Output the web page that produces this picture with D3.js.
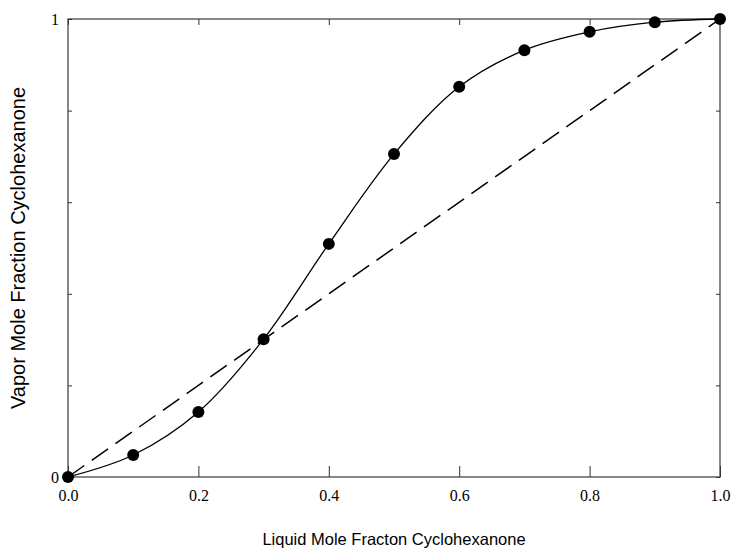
<!DOCTYPE html>
<html>
<head>
<meta charset="utf-8">
<script src="https://cdn.jsdelivr.net/npm/d3@7"></script>
<style>
  body { margin: 0; background: #fff; }
  .tick-label { font-family: "Liberation Serif", "Times New Roman", serif; font-size: 16px; fill: #000; }
  .axis-title { font-family: "Liberation Sans", Arial, sans-serif; font-size: 16.5px; fill: #000; }
</style>
</head>
<body>
<svg id="chart"></svg>
<script>
// liquid vs vapour mole fraction
const liquidX = [0.0, 0.1, 0.2, 0.3, 0.4, 0.5, 0.6, 0.7, 0.8, 0.9, 1.0];
const vaporY  = [0.0, 0.048, 0.142, 0.301, 0.509, 0.705, 0.852, 0.932, 0.972, 0.993, 1.0];
const diagonal = [0, 1];
const xTicks = [0, 0.2, 0.4, 0.6, 0.8, 1.0];
const yTicks = [0, 0.2, 0.4, 0.6, 0.8, 1.0];
const yTickLabels = ['0', '', '', '', '', '1'];

const width = 736, height = 550;
const margin = {top: 19, left: 68, right: 16, bottom: 73};
const w = width - margin.left - margin.right;
const h = height - margin.top - margin.bottom;

const svg = d3.select('#chart')
    .attr('width', width)
    .attr('height', height);

const g = svg.append('g')
    .attr('transform', 'translate(' + margin.left + ',' + margin.top + ')');

const x = d3.scaleLinear().domain([0, 1]).range([0, w]);
const y = d3.scaleLinear().domain([0, 1]).range([h, 0]);

// frame
g.append('rect')
    .attr('x', 0).attr('y', 0)
    .attr('width', w).attr('height', h)
    .attr('fill', 'none')
    .attr('stroke', '#555')
    .attr('stroke-width', 1.4);

// x axis bottom (ticks inward)
const xAxis = g.append('g')
    .attr('transform', 'translate(0,' + h + ')')
    .call(d3.axisBottom(x).tickValues(xTicks).tickSizeInner(-11).tickSizeOuter(0)
        .tickFormat(d3.format('.1f')).tickPadding(13));
xAxis.select('.domain').remove();
xAxis.selectAll('.tick line').attr('stroke', '#333');
xAxis.selectAll('text').attr('class', 'tick-label').attr('font-family', null).attr('font-size', null);

const xTop = g.append('g')
    .call(d3.axisTop(x).tickValues(xTicks).tickSizeInner(-6).tickSizeOuter(0).tickFormat(''));
xTop.select('.domain').remove();
xTop.selectAll('.tick line').attr('stroke', '#333');

// y axis left
const yAxis = g.append('g')
    .call(d3.axisLeft(y).tickValues(yTicks).tickSizeInner(-4).tickSizeOuter(0)
        .tickFormat((d, i) => yTickLabels[i]).tickPadding(9));
yAxis.select('.domain').remove();
yAxis.selectAll('.tick line').attr('stroke', '#333');
yAxis.selectAll('text').attr('class', 'tick-label').attr('font-family', null).attr('font-size', null);

const yRight = g.append('g')
    .attr('transform', 'translate(' + w + ',0)')
    .call(d3.axisRight(y).tickValues(yTicks).tickSizeInner(-4).tickSizeOuter(0).tickFormat(''));
yRight.select('.domain').remove();
yRight.selectAll('.tick line').attr('stroke', '#333');

// diagonal reference line
g.append('line')
    .attr('x1', x(diagonal[0])).attr('y1', y(diagonal[0]))
    .attr('x2', x(diagonal[1])).attr('y2', y(diagonal[1]))
    .attr('stroke', '#000')
    .attr('stroke-width', 1.5)
    .attr('stroke-dasharray', '20,9');

// equilibrium curve
const pts = liquidX.map((d, i) => [d, vaporY[i]]);
const line = d3.line()
    .x(d => x(d[0]))
    .y(d => y(d[1]))
    .curve(d3.curveCatmullRom.alpha(0.5));

g.append('path')
    .datum(pts)
    .attr('d', line)
    .attr('fill', 'none')
    .attr('stroke', '#000')
    .attr('stroke-width', 1.3);

g.selectAll('circle.pt')
    .data(pts)
    .enter().append('circle')
    .attr('class', 'pt')
    .attr('cx', d => x(d[0]))
    .attr('cy', d => y(d[1]))
    .attr('r', 6)
    .attr('fill', '#000');

// titles
svg.append('text')
    .attr('class', 'axis-title')
    .attr('x', margin.left + w / 2)
    .attr('y', 545)
    .attr('text-anchor', 'middle')
    .text('Liquid Mole Fracton Cyclohexanone');

svg.append('text')
    .attr('class', 'axis-title')
    .style('font-size', '20px')
    .attr('transform', 'translate(25,' + (margin.top + h / 2) + ') rotate(-90)')
    .attr('text-anchor', 'middle')
    .text('Vapor Mole Fraction Cyclohexanone');
</script>
</body>
</html>
